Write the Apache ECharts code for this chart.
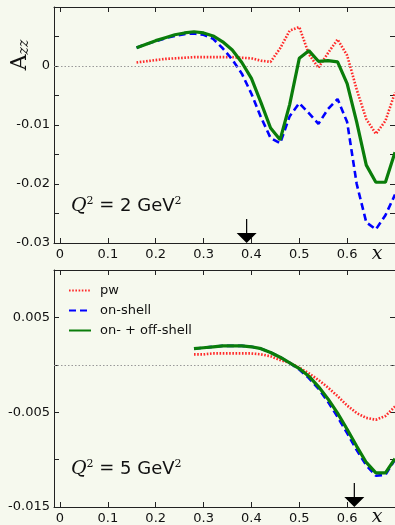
<!DOCTYPE html>
<html>
<head>
<meta charset="utf-8">
<script src="https://cdn.jsdelivr.net/npm/echarts@6/dist/echarts.min.js"></script>
<style>
html,body{margin:0;padding:0;background:#f6f9ee;}
#chart{width:395px;height:525px;}
</style>
</head>
<body>
<div id="chart"></div>
<script>
// ---------- data ----------
const xTop = [0.16,0.18,0.20,0.22,0.24,0.26,0.28,0.30,0.32,0.34,0.36,0.38,0.40,0.42,0.44,0.46,0.48,0.50,0.52,0.54,0.56,0.58,0.60,0.62,0.64,0.66,0.68,0.70];
const pwTop = [0.0006,0.0008,0.0010,0.0012,0.0013,0.0014,0.0015,0.0015,0.0015,0.0015,0.0015,0.0014,0.0013,0.0009,0.0007,0.0030,0.0060,0.0066,0.0020,-0.0003,0.0022,0.0045,0.0018,-0.0040,-0.0090,-0.0115,-0.0093,-0.0045];
const onTop = [0.0031,0.0037,0.0042,0.0047,0.0051,0.0054,0.0055,0.0053,0.0046,0.0030,0.0011,-0.0013,-0.0047,-0.0087,-0.0122,-0.0131,-0.0085,-0.0063,-0.0080,-0.0098,-0.0073,-0.0056,-0.0095,-0.0200,-0.0265,-0.0277,-0.0253,-0.0218];
const offTop = [0.0031,0.0037,0.0043,0.0048,0.0053,0.0056,0.0058,0.0056,0.0051,0.0041,0.0027,0.0006,-0.0021,-0.0062,-0.0105,-0.0125,-0.0065,0.0013,0.0026,0.0008,0.0009,0.0007,-0.0030,-0.0095,-0.0168,-0.0197,-0.0197,-0.0146];

const xBot = [0.28,0.30,0.32,0.34,0.36,0.38,0.40,0.42,0.44,0.46,0.48,0.50,0.52,0.54,0.56,0.58,0.60,0.62,0.64,0.66,0.68,0.70];
const pwBot = [0.0011,0.0011,0.0012,0.0012,0.0012,0.0012,0.0012,0.0011,0.0009,0.0005,0.0002,-0.0003,-0.0009,-0.0016,-0.0024,-0.0033,-0.0043,-0.0051,-0.0056,-0.0058,-0.0054,-0.0044];
const onBot = [0.0017,0.0018,0.0019,0.0020,0.0020,0.0020,0.0019,0.0017,0.0013,0.0008,0.0002,-0.0005,-0.0014,-0.0025,-0.0039,-0.0055,-0.0072,-0.0090,-0.0106,-0.0117,-0.0116,-0.0100];
const offBot = [0.0017,0.0018,0.0019,0.0020,0.0020,0.0020,0.0019,0.0017,0.0013,0.0008,0.0002,-0.0004,-0.0012,-0.0023,-0.0036,-0.0051,-0.0068,-0.0086,-0.0103,-0.0114,-0.0114,-0.0099];

const seriesNames = ['pw','on-shell','on- + off-shell'];
const xTicks = [0,0.1,0.2,0.3,0.4,0.5,0.6];
const yTicksTop = [-0.03,-0.025,-0.02,-0.015,-0.01,-0.005,0,0.005,0.01];
const yLabelsTop = [-0.03,-0.02,-0.01,0];
const yTicksBot = [-0.015,-0.01,-0.005,0,0.005,0.01];
const yLabelsBot = [-0.015,-0.005,0.005];
const arrowTop = 0.39;
const arrowBot = 0.615;

// ---------- styles ----------
const FONT = 'DejaVu Sans';
const AX = '#222';
const fmt = v => Math.abs(v) < 1e-12 ? '0' : String(+(+v).toPrecision(3));
const pair = (xs, ys) => xs.map((x, i) => [x, ys[i]]);

function xAx(grid, pos, labels) {
  return {
    type: 'value', gridIndex: grid, position: pos, min: -0.0125, max: 0.7,
    axisLine: {show: true, onZero: false, lineStyle: {color: AX, width: 1}},
    axisTick: {show: true, inside: true, length: 5, customValues: xTicks, lineStyle: {color: AX}},
    axisLabel: {show: labels, customValues: xTicks, margin: 5, formatter: fmt,
      fontFamily: FONT, fontSize: 13, color: '#111'},
    splitLine: {show: false}
  };
}
function yAx(grid, pos, min, ticks, labels) {
  return {
    type: 'value', gridIndex: grid, position: pos, min: min, max: 0.01,
    axisLine: {show: true, onZero: false, lineStyle: {color: AX, width: 1}},
    axisTick: {show: true, inside: true, length: 5, customValues: ticks, lineStyle: {color: AX}},
    axisLabel: {show: !!labels, customValues: labels || ticks, margin: 4, formatter: fmt,
      fontFamily: FONT, fontSize: 13, color: '#111'},
    splitLine: {show: false}
  };
}

const STYLES = [
  {color: '#ff2a2a', width: 2.6, type: [1.6, 1.6]},
  {color: '#0000ff', width: 2.6, type: [7, 4]},
  {color: '#0a7d0a', width: 3.2, type: 'solid'}
];
const arrowPath = 'path://M9.4,0 L10.6,0 L10.6,14 L20,14 L10,24 L0,14 L9.4,14 Z';
function mk(grid, xs, ys, idx, extra) {
  const s = {
    name: seriesNames[idx], type: 'line', xAxisIndex: grid * 2, yAxisIndex: grid * 2,
    data: pair(xs, ys), symbol: 'none', showSymbol: false, smooth: false,
    lineStyle: STYLES[idx], itemStyle: {color: STYLES[idx].color},
    z: 3 + idx, animation: false
  };
  return Object.assign(s, extra || {});
}
function zeroLine() {
  return {silent: true, symbol: 'none', label: {show: false},
    lineStyle: {color: '#999', type: [1.5, 2], width: 1.2}, data: [{yAxis: 0}]};
}
function arrow(x, y) {
  return {silent: true, symbol: arrowPath, symbolSize: [20, 24], symbolOffset: [0, -12],
    symbolKeepAspect: false, itemStyle: {color: '#000'}, label: {show: false},
    data: [{coord: [x, y]}]};
}

const rich = {
  q: {fontFamily: 'DejaVu Serif', fontStyle: 'italic', fontSize: 19, fill: '#111'},
  s: {fontFamily: 'DejaVu Serif', fontSize: 11, fill: '#111', verticalAlign: 'top', padding: [0,0,9,0]},
  n: {fontFamily: FONT, fontSize: 18, fill: '#111'},
  e: {fontFamily: 'DejaVu Serif', fontSize: 18, fill: '#111'}
};

const option = {
  backgroundColor: '#f6f9ee',
  animation: false,
  grid: [
    {left: 54, right: 0, top: 7, height: 236},
    {left: 54, right: 0, top: 270, height: 237}
  ],
  xAxis: [xAx(0, 'bottom', true), xAx(0, 'top', false), xAx(1, 'bottom', true), xAx(1, 'top', false)],
  yAxis: [
    yAx(0, 'left', -0.03, yTicksTop, yLabelsTop), yAx(0, 'right', -0.03, yTicksTop, null),
    yAx(1, 'left', -0.015, yTicksBot, yLabelsBot), yAx(1, 'right', -0.015, yTicksBot, null)
  ],
  legend: {
    data: seriesNames.map(n => ({name: n})),
    orient: 'vertical', left: 63, top: 279,
    itemWidth: 22, itemHeight: 14, itemGap: 7,
    itemStyle: {opacity: 0},
    textStyle: {fontFamily: FONT, fontSize: 13, color: '#111', padding: [0, 0, 0, 4]},
    selectedMode: false
  },
  series: [
    mk(0, xTop, pwTop, 0, {markLine: zeroLine()}),
    mk(0, xTop, onTop, 1),
    mk(0, xTop, offTop, 2, {markPoint: arrow(arrowTop, -0.03)}),
    mk(1, xBot, pwBot, 0, {markLine: zeroLine()}),
    mk(1, xBot, onBot, 1),
    mk(1, xBot, offBot, 2, {markPoint: arrow(arrowBot, -0.015)})
  ],
  graphic: [
    {type: 'text', left: 71, top: 196, style: {rich: rich, text: '{q|Q}{s|2}{e| = }{n|2 GeV}{s|2}'}},
    {type: 'text', left: 71, top: 459, style: {rich: rich, text: '{q|Q}{s|2}{e| = }{n|5 GeV}{s|2}'}},
    {type: 'text', x: 377, y: 254, style: {text: 'x', fontFamily: 'DejaVu Serif', fontStyle: 'italic',
      fontSize: 19, fill: '#111', align: 'center', verticalAlign: 'middle'}},
    {type: 'text', x: 377, y: 517, style: {text: 'x', fontFamily: 'DejaVu Serif', fontStyle: 'italic',
      fontSize: 19, fill: '#111', align: 'center', verticalAlign: 'middle'}},
    {type: 'text', x: 20, y: 55, rotation: Math.PI / 2, style: {
      rich: {
        a: {fontFamily: 'DejaVu Serif', fontSize: 22, fill: '#111'},
        z: {fontFamily: 'DejaVu Serif', fontStyle: 'italic', fontSize: 14, fill: '#111', verticalAlign: 'bottom', padding: [8,0,0,0]}
      },
      text: '{a|A}{z|zz}', align: 'center', verticalAlign: 'middle'
    }}
  ]
};

const chart = echarts.init(document.getElementById('chart'), null, {renderer: 'canvas'});
chart.setOption(option);
</script>
</body>
</html>
